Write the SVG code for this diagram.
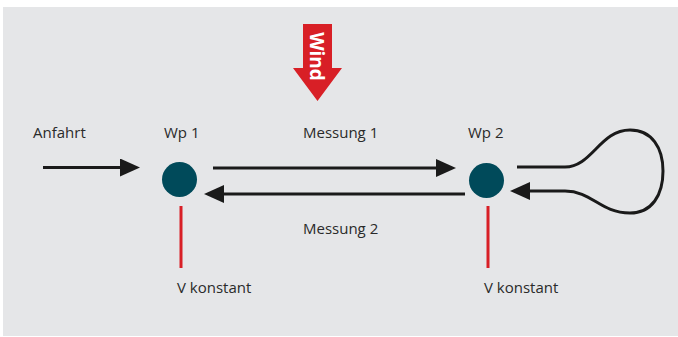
<svg xmlns="http://www.w3.org/2000/svg" width="678" height="337" viewBox="0 0 678 337">
<style>
.lbl{font-family:"Open Sans","Liberation Sans",sans-serif;font-size:15px;fill:#2a2a2a}
.conn{stroke:#1a1a1a;stroke-width:3;fill:none}
.pole{stroke:#d81f26;stroke-width:3}
.node{fill:#004a5a}
</style>
<defs>
<marker id="ah" viewBox="0 0 20 18" refX="10" refY="9" markerWidth="20" markerHeight="18" markerUnits="userSpaceOnUse" orient="auto">
<path d="M0,0 L20,9 L0,18 Z" fill="#1a1a1a"/>
</marker>
</defs>
<rect x="3" y="7" width="675" height="329" fill="#e5e6e8"/>
<g id="wind">
<path d="M303,24 H332 V68 H342 L317.5,101 L293,68 H303 Z" fill="#d81f26"/>
<text transform="translate(310,56.5) rotate(90)" text-anchor="middle" font-family="'Open Sans','Liberation Sans',sans-serif" font-weight="bold" font-size="19" fill="#fff">Wind</text>
</g>
<g id="connectors">
<line class="conn" x1="43" y1="167.5" x2="130" y2="167.5" marker-end="url(#ah)"/>
<line class="conn" x1="213" y1="168" x2="446" y2="168" marker-end="url(#ah)"/>
<line class="conn" x1="465" y1="194" x2="214" y2="194" marker-end="url(#ah)"/>
<path class="conn" d="M517,167 L565,167 C592,167 600,130 630,130 C652,130 663,148 663,171 C663,195 652,213 630,213 C600,213 592,191 565,191 L520,191" marker-end="url(#ah)"/>
</g>
<g id="anfahrt"><text class="lbl" x="33" y="138">Anfahrt</text></g>
<g id="wp1">
<circle class="node" cx="179.5" cy="179.5" r="17.5"/>
<line class="pole" x1="181" y1="206" x2="181" y2="268"/>
<text class="lbl" x="164" y="138">Wp 1</text>
<text class="lbl" x="177" y="292.5">V konstant</text>
</g>
<g id="wp2">
<circle class="node" cx="486.5" cy="180.5" r="17.5"/>
<line class="pole" x1="488" y1="206" x2="488" y2="268"/>
<text class="lbl" x="468" y="138">Wp 2</text>
<text class="lbl" x="484" y="292.5">V konstant</text>
</g>
<g id="messung1"><text class="lbl" x="303" y="138">Messung 1</text></g>
<g id="messung2"><text class="lbl" x="303" y="234">Messung 2</text></g>
</svg>
